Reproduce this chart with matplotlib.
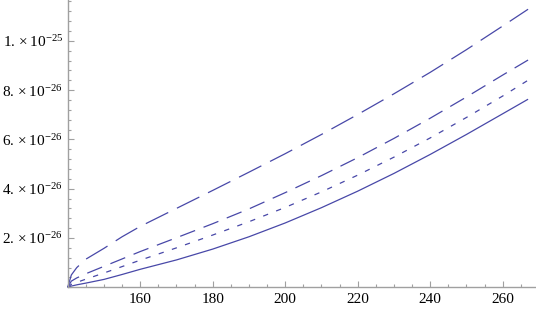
import matplotlib
matplotlib.use("Agg")
import matplotlib.pyplot as plt
from matplotlib.ticker import MultipleLocator, FixedLocator, FixedFormatter

plt.rcParams['font.family'] = ['Liberation Serif', 'DejaVu Serif']
plt.rcParams['mathtext.fontset'] = 'custom'
plt.rcParams['mathtext.rm'] = 'Liberation Serif'
plt.rcParams['mathtext.it'] = 'Liberation Serif:italic'
plt.rcParams['lines.scale_dashes'] = False

# x values (energy) where curves were read
x = [140, 141, 142.5, 145, 150, 155, 160, 170, 180, 190, 200, 210, 220, 230, 240, 250, 260, 267]

# series values in units of 1e-26
long_dash = [0, 0.50, 0.80, 1.14, 1.58, 2.05, 2.47, 3.20, 3.93, 4.67, 5.42, 6.20, 7.01, 7.85, 8.72, 9.64, 10.60, 11.28]
medium_dash = [0, 0.25, 0.38, 0.55, 0.85, 1.15, 1.45, 2.01, 2.58, 3.18, 3.84, 4.53, 5.26, 6.04, 6.86, 7.72, 8.61, 9.22]
short_dash = [0, 0.12, 0.20, 0.33, 0.58, 0.84, 1.10, 1.60, 2.12, 2.66, 3.24, 3.87, 4.55, 5.28, 6.06, 6.89, 7.76, 8.40]
solid = [0, 0.05, 0.10, 0.17, 0.32, 0.52, 0.73, 1.11, 1.55, 2.05, 2.61, 3.23, 3.90, 4.62, 5.39, 6.20, 7.04, 7.63]

scale = 1e-26

x_ticks = [160, 180, 200, 220, 240, 260]
x_tick_labels = ['160', '180', '200', '220', '240', '260']
y_ticks = [2e-26, 4e-26, 6e-26, 8e-26, 1e-25]
y_tick_labels = [r'$2.\times10^{-26}$', r'$4.\times10^{-26}$', r'$6.\times10^{-26}$',
                 r'$8.\times10^{-26}$', r'$1.\times10^{-25}$']

W, H = 536, 311
fig = plt.figure(figsize=(W / 100, H / 100), dpi=100)
left = 67.7 / W
bottom = (H - 287.3) / H
ax = fig.add_axes([left, bottom, 1 - left, 1 - bottom])
ax.patch.set_alpha(0)

color = '#4848a8'
lw = 0.9
series = [
    (long_dash, (0, (18, 7))),
    (medium_dash, (0, (11.5, 6.5))),
    (short_dash, (0, (3.8, 6.2))),
    (solid, '-'),
]
for vals, ls in series:
    ax.plot(x, [v * scale for v in vals], color=color, lw=lw, linestyle=ls,
            solid_capstyle='butt', dash_capstyle='butt', clip_on=False)

ax.set_xlim(140, 140 + (W - 67.7) / 3.625)
ax.set_ylim(0, 287.3 / 24.65 * 1e-26)

for s in ['top', 'right']:
    ax.spines[s].set_visible(False)
for s in ['left', 'bottom']:
    ax.spines[s].set_color('#a0a0a0')
    ax.spines[s].set_linewidth(1.0)

ax.xaxis.set_major_locator(FixedLocator(x_ticks))
ax.xaxis.set_major_formatter(FixedFormatter(x_tick_labels))
ax.xaxis.set_minor_locator(MultipleLocator(5))
ax.yaxis.set_major_locator(FixedLocator(y_ticks))
ax.yaxis.set_major_formatter(FixedFormatter(y_tick_labels))
ax.yaxis.set_minor_locator(MultipleLocator(0.4e-26))

ax.tick_params(which='both', direction='in', color='#a0a0a0', width=0.8,
               labelsize=11, labelcolor='black')
ax.tick_params(which='major', length=4)
ax.tick_params(which='minor', length=2.3)
ax.tick_params(axis='x', which='major', pad=4)
ax.tick_params(axis='y', which='major', pad=3.5)

fig.savefig('out.png', dpi=100)
